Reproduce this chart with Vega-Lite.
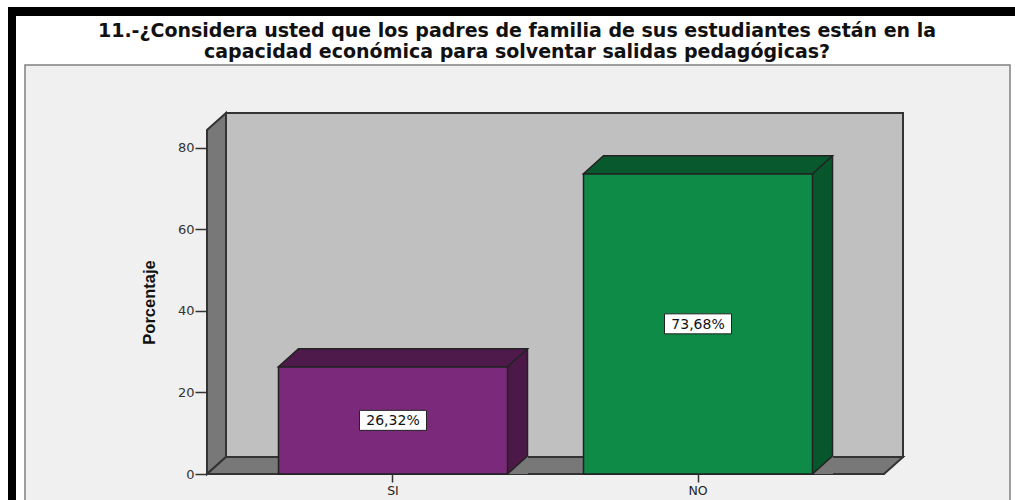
{
  "$schema": "https://vega.github.io/schema/vega-lite/v6.json",
  "width": 677,
  "height": 344,
  "autosize": "none",
  "padding": {"left": 207, "top": 130, "right": 131, "bottom": 26},
  "background": "#ffffff",
  "title": {
    "text": ["11.-¿Considera usted que los padres de familia de sus estudiantes están en la", "capacidad económica para solventar salidas pedagógicas?"],
    "font": "DejaVu Sans",
    "fontSize": 19,
    "fontWeight": "bold",
    "color": "#111111",
    "lineHeight": 21.5,
    "anchor": "middle",
    "frame": "group",
    "baseline": "alphabetic",
    "offset": 0,
    "dx": -28.5,
    "dy": 70
  },
  "config": {
    "view": {"stroke": null},
    "axis": {"grid": false, "zindex": 1}
  },
  "data": {
    "values": [
      {"cat": "SI", "pct": 26.32, "label": "26,32%"},
      {"cat": "NO", "pct": 73.68, "label": "73,68%"}
    ]
  },
  "encoding": {
    "x": {
      "field": "cat",
      "type": "nominal",
      "sort": ["SI", "NO"],
      "scale": {"paddingInner": 0.2492, "paddingOuter": 0.2344},
      "axis": {
        "title": null,
        "labelAngle": 0,
        "domain": false,
        "tickSize": 8,
        "tickColor": "#333333",
        "tickWidth": 1.5,
        "labelPadding": 2,
        "labelFont": "DejaVu Sans",
        "labelFontSize": 12.5,
        "labelColor": "#222222",
        "zindex": 1
      }
    },
    "y": {
      "field": "pct",
      "type": "quantitative",
      "scale": {"domain": [0, 84.4], "nice": false},
      "axis": {
        "title": "Porcentaje",
        "values": [0, 20, 40, 60, 80],
        "domain": false,
        "tickSize": 12,
        "tickColor": "#333333",
        "tickWidth": 1.5,
        "labelPadding": 1,
        "labelFont": "DejaVu Sans",
        "labelFontSize": 13,
        "labelColor": "#333333",
        "titleFont": "Liberation Sans",
        "titleFontWeight": "bold",
        "titleFontSize": 16.5,
        "titleColor": "#111111",
        "titlePadding": 20,
        "zindex": 1
      }
    }
  },
  "layer": [
    {
      "transform": [{"filter": "datum.cat === 'SI'"}],
      "mark": {"type": "rect", "fill": "#f0f0f0", "stroke": "#808080", "strokeWidth": 1.5},
      "encoding": {
        "x": {"value": -182}, "x2": {"value": 803},
        "y": {"value": -65}, "y2": {"value": 380}
      }
    },
    {
      "transform": [{"filter": "datum.cat === 'SI'"}],
      "mark": {"type": "rect", "fill": "#000000"},
      "encoding": {
        "x": {"value": -199}, "x2": {"value": 808},
        "y": {"value": -123}, "y2": {"value": -114}
      }
    },
    {
      "transform": [{"filter": "datum.cat === 'SI'"}],
      "mark": {"type": "rect", "fill": "#000000"},
      "encoding": {
        "x": {"value": -199}, "x2": {"value": -191},
        "y": {"value": -123}, "y2": {"value": 370}
      }
    },
    {
      "transform": [{"filter": "datum.cat === 'SI'"}],
      "mark": {"type": "rect", "fill": "#c0c0c0", "stroke": "#333333", "strokeWidth": 2},
      "encoding": {
        "x": {"value": 19}, "x2": {"value": 696},
        "y": {"value": -17}, "y2": {"value": 327}
      }
    },
    {
      "transform": [{"filter": "datum.cat === 'SI'"}],
      "mark": {"type": "point", "shape": "M0,0L0,-344L19,-361L19,-17Z", "size": 4, "filled": true, "fill": "#787878", "stroke": "#333333", "strokeWidth": 2, "opacity": 1, "strokeJoin": "miter"},
      "encoding": {
        "x": {"value": 0},
        "y": {"datum": 0}
      }
    },
    {
      "transform": [{"filter": "datum.cat === 'SI'"}],
      "mark": {"type": "point", "shape": "M0,0L677,0L696,-17L19,-17Z", "size": 4, "filled": true, "fill": "#787878", "stroke": "#333333", "strokeWidth": 2, "opacity": 1, "strokeJoin": "miter"},
      "encoding": {
        "x": {"value": 0},
        "y": {"datum": 0}
      }
    },
    {
      "mark": {"type": "bar", "width": 20, "xOffset": 124.5, "yOffset": -18},
      "encoding": {
        "y2": {"datum": 0},
        "fill": {"condition": {"test": "datum.cat === 'SI'", "value": "#4b1847"}, "value": "#07562c"}
      }
    },
    {
      "mark": {"type": "point", "shape": "M114.5,0L135,0L135,-18.5Z", "size": 4, "filled": true, "fill": "#787878", "strokeWidth": 0, "opacity": 1},
      "encoding": {
        "y": {"datum": 0}
      }
    },
    {
      "mark": {"type": "rule", "xOffset": 134.5, "yOffset": -18, "y2Offset": -18, "stroke": "#222222", "strokeWidth": 1.5},
      "encoding": {
        "y2": {"datum": 0}
      }
    },
    {
      "mark": {"type": "point", "shape": "M114.5,0L134.5,-18", "size": 4, "filled": false, "stroke": "#222222", "strokeWidth": 1.5, "opacity": 1},
      "encoding": {
        "y": {"datum": 0}
      }
    },
    {
      "mark": {"type": "bar", "stroke": "#222222", "strokeWidth": 1.5},
      "encoding": {
        "y2": {"datum": 0},
        "fill": {"condition": {"test": "datum.cat === 'SI'", "value": "#7b2a7b"}, "value": "#0f8b48"}
      }
    },
    {
      "mark": {"type": "point", "shape": "M-114.5,0L114.5,0L134.5,-18L-94.5,-18Z", "size": 4, "filled": true, "stroke": "#222222", "strokeWidth": 1.5, "opacity": 1, "strokeJoin": "miter"},
      "encoding": {
        "fill": {"condition": {"test": "datum.cat === 'SI'", "value": "#4e1a4b"}, "value": "#08592e"}
      }
    },
    {
      "transform": [{"calculate": "datum.pct / 2", "as": "mid"}],
      "mark": {"type": "point", "shape": "M-33.5,-10L33.5,-10L33.5,10L-33.5,10Z", "size": 4, "filled": true, "fill": "#ffffff", "stroke": "#222222", "strokeWidth": 1, "opacity": 1},
      "encoding": {
        "y": {"field": "mid", "type": "quantitative"}
      }
    },
    {
      "transform": [{"calculate": "datum.pct / 2", "as": "mid"}],
      "mark": {"type": "text", "font": "DejaVu Sans", "fontSize": 14, "color": "#111111", "align": "center", "baseline": "middle", "dy": 1},
      "encoding": {
        "y": {"field": "mid", "type": "quantitative"},
        "text": {"field": "label"}
      }
    }
  ]
}
